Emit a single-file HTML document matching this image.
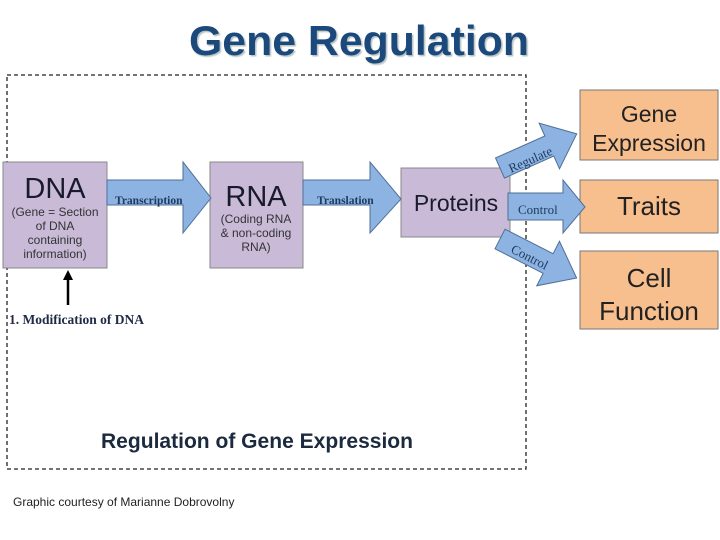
<!DOCTYPE html>
<html><head><meta charset="utf-8"><style>
html,body{margin:0;padding:0;background:#fff;}
svg{display:block;}
</style></head><body>
<svg width="720" height="540" viewBox="0 0 720 540" xmlns="http://www.w3.org/2000/svg">
<defs>
<filter id="sh" x="-5%" y="-5%" width="110%" height="120%"><feDropShadow dx="1.5" dy="1.5" stdDeviation="0.6" flood-color="#9aa" flood-opacity="0.7"/></filter>
</defs>
<text x="359" y="55" text-anchor="middle" font-family="Liberation Sans, DejaVu Sans, sans-serif" font-weight="bold" font-size="42" fill="#1b4a7c" filter="url(#sh)" textLength="340" lengthAdjust="spacingAndGlyphs">Gene Regulation</text>

<rect x="7" y="75" width="519" height="394" fill="none" stroke="#222" stroke-width="1.3" stroke-dasharray="4,3"/>

<rect x="3" y="162" width="104" height="106" fill="#c9bbd8" stroke="#888" stroke-width="1"/>
<rect x="210" y="162" width="93" height="106" fill="#c9bbd8" stroke="#888" stroke-width="1"/>
<rect x="401" y="168" width="109" height="69" fill="#c9bbd8" stroke="#888" stroke-width="1"/>

<rect x="580" y="90" width="138" height="70" fill="#f8bf8e" stroke="#777" stroke-width="1"/>
<rect x="580" y="180" width="138" height="53" fill="#f8bf8e" stroke="#777" stroke-width="1"/>
<rect x="580" y="251" width="138" height="78" fill="#f8bf8e" stroke="#777" stroke-width="1"/>

<g fill="#8db3e2" stroke="#4f6f96" stroke-width="1">
<polygon points="107,180 183,180 183,162 211,198 183,233 183,205 107,205"/>
<polygon points="303,180 370,180 370,162 401,199 370,233 370,205 303,205"/>
<polygon points="508,193 563,193 563,180 585,207 563,233 563,220 508,220"/>
<g transform="translate(500,168) rotate(-24)">
<polygon points="0,-11 54,-11 54,-25 84,0 54,25 54,11 0,11"/>
</g>
<g transform="translate(500,239) rotate(27)">
<polygon points="0,-11 54,-11 54,-25 86,0 54,25 54,11 0,11"/>
</g>
</g>

<g font-family="Liberation Serif, DejaVu Serif, serif" font-weight="bold" font-size="11.5" fill="#1f3a5f">
<text x="115" y="204">Transcription</text>
<text x="317" y="204">Translation</text>
</g>
<g font-family="Liberation Serif, DejaVu Serif, serif" font-size="13" fill="#1f3a5f">
<text x="518" y="214">Control</text>
<text transform="translate(511,173) rotate(-24)">Regulate</text>
<text transform="translate(510,252) rotate(27)">Control</text>
</g>

<g font-family="Liberation Sans, DejaVu Sans, sans-serif" fill="#1a1a2e" text-anchor="middle">
<text x="55" y="198" font-size="29">DNA</text>
<text x="55" y="216" font-size="12" fill="#333">(Gene = Section</text>
<text x="55" y="230" font-size="12" fill="#333">of DNA</text>
<text x="55" y="244" font-size="12" fill="#333">containing</text>
<text x="55" y="258" font-size="12" fill="#333">information)</text>
<text x="256" y="206" font-size="29">RNA</text>
<text x="256" y="223" font-size="12" fill="#333">(Coding RNA</text>
<text x="256" y="237" font-size="12" fill="#333">&amp; non-coding</text>
<text x="256" y="251" font-size="12" fill="#333">RNA)</text>
<text x="456" y="211" font-size="23">Proteins</text>
<text x="649" y="122" font-size="23" fill="#222">Gene</text>
<text x="649" y="151" font-size="23" fill="#222">Expression</text>
<text x="649" y="215" font-size="26" fill="#222">Traits</text>
<text x="649" y="287" font-size="26" fill="#222">Cell</text>
<text x="649" y="320" font-size="26" fill="#222">Function</text>
</g>

<line x1="68" y1="305" x2="68" y2="278" stroke="#000" stroke-width="2.5"/>
<polygon points="63,280 68,270 73,280" fill="#000"/>
<text x="9" y="324" font-family="Liberation Serif, DejaVu Serif, serif" font-weight="bold" font-size="13.5" fill="#1f2a44">1. Modification of DNA</text>

<text x="101" y="448" font-family="Liberation Sans, DejaVu Sans, sans-serif" font-weight="bold" font-size="21" fill="#1c2a3e" textLength="312" lengthAdjust="spacingAndGlyphs">Regulation of Gene Expression</text>
<text x="13" y="506" font-family="Liberation Sans, DejaVu Sans, sans-serif" font-size="12" fill="#222">Graphic courtesy of Marianne Dobrovolny</text>
</svg>
</body></html>
